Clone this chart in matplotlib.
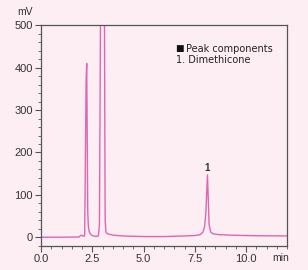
import matplotlib
matplotlib.use("Agg")
import matplotlib.pyplot as plt
from matplotlib.ticker import MultipleLocator, FormatStrFormatter

# chromatogram (time in min, signal in mV)
t = [0.0, 1.0, 1.85, 1.93, 1.98, 2.04, 2.1, 2.13, 2.16, 2.2, 2.23, 2.26, 2.28,
     2.31, 2.36, 2.44, 2.55, 2.7, 2.8, 2.85, 2.88, 2.91, 3.0, 3.09, 3.11, 3.13,
     3.17, 3.25, 3.5, 4.0, 5.0, 6.0, 7.0, 7.5, 7.76, 7.9, 7.98, 8.04, 8.08,
     8.12, 8.16, 8.2, 8.28, 8.4, 8.7, 9.5, 10.5, 12.0]
mv = [0.0, 0.0, 0.5, 4.0, 5.0, 3.0, 2.0, 6.0, 150.0, 370.0, 410.0, 200.0, 60.0,
      25.0, 12.0, 6.0, 3.0, 2.0, 3.0, 30.0, 300.0, 600.0, 650.0, 600.0, 300.0,
      40.0, 12.0, 8.0, 5.0, 3.0, 1.5, 1.5, 3.0, 4.0, 6.0, 12.0, 25.0, 55.0,
      100.0, 147.0, 90.0, 30.0, 12.0, 8.0, 6.0, 4.5, 3.5, 3.0]
peak_t = [8.12]
peak_mv = [147.0]
peak_labels = ["1"]

bg = "#fdeef4"
line_c = "#e066b0"

plt.rcParams['font.family'] = ['Liberation Sans', 'DejaVu Sans']
fig = plt.figure(figsize=(3.08, 2.70), dpi=100, facecolor=bg)
ax = fig.add_axes([41/308, 1-245.7/270, 246/308, 220.4/270], facecolor=bg)

ax.plot(t, mv, color=line_c, lw=1.0)
for x, y, s in zip(peak_t, peak_mv, peak_labels):
    ax.text(x, y + 4, s, ha="center", va="bottom", fontsize=7, color="#333333",
            fontweight="bold")

ax.set_xlim(0, 12)
ax.set_ylim(-20, 500)
ax.xaxis.set_major_locator(MultipleLocator(2.5))
ax.xaxis.set_minor_locator(MultipleLocator(0.5))
ax.yaxis.set_major_locator(MultipleLocator(100))
ax.yaxis.set_minor_locator(MultipleLocator(20))
ax.xaxis.set_major_formatter(FormatStrFormatter("%.1f"))
for sp in ax.spines.values():
    sp.set_color("#555555")
    sp.set_linewidth(0.9)
ax.tick_params(which="major", length=4, width=0.8, color="#555555",
               labelsize=8, labelcolor="#333333", pad=2)
ax.tick_params(which="minor", length=2.5, width=0.6, color="#555555")

fig.text(17/308, 1-12/270, "mV", fontsize=7.5, color="#333333", va="center")
fig.text(272/308, 1-258/270, "min", fontsize=7.5, color="#333333", va="center")

fig.text(175/308, 1-49/270, "\u25a0", fontsize=6.5, color="#111111", va="center",
         family="DejaVu Sans")
fig.text(186/308, 1-49/270, "Peak components", fontsize=7, color="#222222",
         va="center", family="DejaVu Sans")
fig.text(176/308, 1-60/270, "1. Dimethicone", fontsize=7, color="#222222",
         va="center", family="DejaVu Sans")

fig.savefig("out.png", dpi=100, facecolor=bg)
